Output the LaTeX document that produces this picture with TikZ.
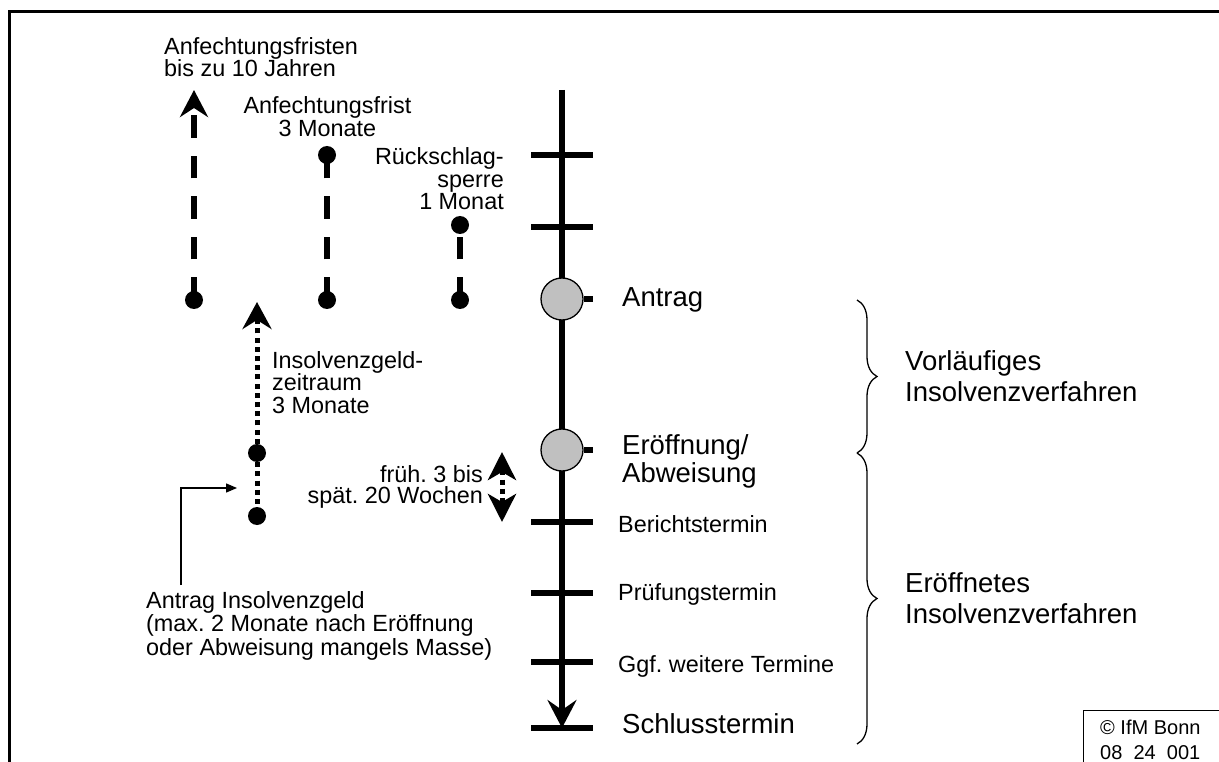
\documentclass[tikz,border=0pt]{standalone}
\usepackage{fontspec}
\setmainfont{Liberation Sans}
\usetikzlibrary{arrows.meta,decorations.pathreplacing}
\definecolor{evgray}{RGB}{192,192,192}
\newcommand\mlL[2]{\vtop{\baselineskip=#1\lineskiplimit=-1000pt\lineskip=0pt\halign{##\hfil\cr#2\crcr}}}
\newcommand\mlR[2]{\vtop{\baselineskip=#1\lineskiplimit=-1000pt\lineskip=0pt\halign{\hfil##\cr#2\crcr}}}
\newcommand\mlC[2]{\vtop{\baselineskip=#1\lineskiplimit=-1000pt\lineskip=0pt\halign{\hfil##\hfil\cr#2\crcr}}}
\tikzset{
  bigtip/.tip={Stealth[length=28pt,width=29pt,inset=10pt]},
  midtip/.tip={Stealth[length=27pt,width=28pt,inset=9pt]},
  axisline/.style={line width=5.5pt},
  tickline/.style={line width=6pt},
  dashline/.style={line width=6pt, dash pattern=on 22.5pt off 18pt},
  dotline/.style={line width=5pt, dash pattern=on 5pt off 4.2pt},
  enddot/.style={circle, fill=black, inner sep=0pt, minimum size=18pt},
  event/.style={circle, draw=black, line width=1.3pt, fill=evgray, inner sep=0pt, minimum size=42pt},
  stxt/.style={inner sep=0pt, font=\fontsize{23.4pt}{22.5pt}\selectfont\frenchspacing},
  btxt/.style={inner sep=0pt, font=\fontsize{27.5pt}{30pt}\selectfont\frenchspacing},
  ctxt/.style={inner sep=0pt, font=\fontsize{20pt}{24pt}\selectfont\frenchspacing},
  bracel/.style={decorate, decoration={brace, amplitude=20pt}, line width=1.3pt},
  thinarrow/.style={line width=1.3pt, -{Triangle[length=11pt,width=9pt]}}
}
\begin{document}
\begin{tikzpicture}[x=1pt,y=-1pt]
\useasboundingbox (0,0) rectangle (1219,762);
\fill[white] (0,0) rectangle (1219,762);
% frame
\coordinate (fr1) at (9.5,762);
\coordinate (fr2) at (9.5,11.5);
\coordinate (fr3) at (1219,11.5);
\draw[line width=3pt] (fr1) -- (fr2) -- (fr3);

% main time axis
\coordinate (axtop) at (562,90);
\coordinate (axend) at (562,728);
\draw[axisline, -{bigtip}] (axtop) -- (axend);
\foreach \yy/\nm in {155/r1,227/r2,522/bt,593/pt,662/gt,728/st}{
  \coordinate (\nm-w) at (531,\yy);
  \coordinate (\nm-e) at (593,\yy);
  \draw[tickline] (\nm-w) -- (\nm-e);
}
\node[event] (antrag) at (562,299) {};
\node[event] (eroeff) at (562,450) {};
\coordinate (antrag-s) at (593,299);
\coordinate (eroeff-s) at (593,450);
\draw[tickline] (antrag.east) -- (antrag-s);
\draw[tickline] (eroeff.east) -- (eroeff-s);

% Anfechtungsfristen bis 10 Jahre
\node[enddot] (a1) at (194,300) {};
\coordinate (a1top) at (194,90);
\draw[dashline, -{midtip}] (a1.center) -- (a1top);
% Anfechtungsfrist 3 Monate
\node[enddot] (b1) at (327,300) {};
\node[enddot] (b2) at (327,155) {};
\draw[dashline] (b1.center) -- (b2.center);
% Rueckschlagsperre
\node[enddot] (c1) at (460,300) {};
\node[enddot] (c2) at (460,225) {};
\draw[dashline] (c1.center) -- (c2.center);

% Insolvenzgeldzeitraum
\node[enddot] (d1) at (257,453) {};
\node[enddot] (d2) at (257,516) {};
\coordinate (d0) at (257,302);
\draw[dotline, -{Stealth[length=27pt,width=29pt,inset=9pt]}] (d1.center) -- (d0);
\draw[dotline] (d1.center) -- (d2.center);

% frueh 3 bis spaet 20 Wochen
\coordinate (e1) at (502,452);
\coordinate (e2) at (502,522);
\draw[dotline, {Stealth[length=28pt,width=28pt,inset=8pt]}-{Stealth[length=28pt,width=28pt,inset=8pt]}] (e1) -- (e2);

% elbow arrow
\coordinate (el0) at (181,585);
\coordinate (el1) at (237,488);
\draw[thinarrow] (el0) |- (el1);

% braces
\coordinate (br1) at (857,300);
\coordinate (br2) at (857,453);
\coordinate (br3) at (857,744);
\draw[bracel] (br1) -- (br2);
\draw[bracel] (br2) -- (br3);

% copyright box
\coordinate (cb1) at (1083,762);
\coordinate (cb2) at (1083,710.5);
\coordinate (cb3) at (1219,710.5);
\draw[line width=1pt] (cb1) -- (cb2) -- (cb3);

% texts
\node[stxt, anchor=base west] (tAnf10) at (164,55) {\mlL{22pt}{Anfechtungsfristen\cr bis zu 10 Jahren}};
\node[stxt, anchor=base] (tAnf3) at (327.5,114) {\mlC{23pt}{Anfechtungsfrist\cr 3 Monate}};
\node[stxt, anchor=base east] (tRueck) at (504,165) {\mlR{22.3pt}{Rückschlag-\cr sperre\cr 1 Monat}};
\node[stxt, anchor=base west] (tIns) at (272,368) {\mlL{22.5pt}{Insolvenzgeld-\cr zeitraum\cr 3 Monate}};
\node[stxt, anchor=base east] (tFrueh) at (483,482) {\mlR{21.5pt}{früh. 3 bis\cr spät. 20 Wochen}};
\node[stxt, anchor=base west] (tAntIns) at (146,608) {\mlL{23.5pt}{Antrag Insolvenzgeld\cr (max. 2 Monate nach Eröffnung\cr oder Abweisung mangels Masse)}};
\node[btxt, anchor=base west] (tAntrag) at (622,307) {Antrag};
\node[btxt, anchor=base west] (tEroeff) at (622,454) {\mlL{28pt}{Eröffnung/\cr Abweisung}};
\node[stxt, anchor=base west] (tBericht) at (618,532) {Berichtstermin};
\node[stxt, anchor=base west] (tPruef) at (618,600) {Prüfungstermin};
\node[stxt, anchor=base west] (tGgf) at (618,672) {Ggf. weitere Termine};
\node[btxt, anchor=base west] (tSchluss) at (622,733) {Schlusstermin};
\node[btxt, anchor=base west] (tVorl) at (905,370) {\mlL{32pt}{Vorläufiges\cr Insolvenzverfahren}};
\node[btxt, anchor=base west] (tEroeffn) at (905,592) {\mlL{31.5pt}{Eröffnetes\cr Insolvenzverfahren}};
\node[ctxt, anchor=base west] (tCopy) at (1100,734) {\mlL{25pt}{© IfM Bonn\cr 08\ \ 24\ \ 001}};
\end{tikzpicture}
\end{document}
